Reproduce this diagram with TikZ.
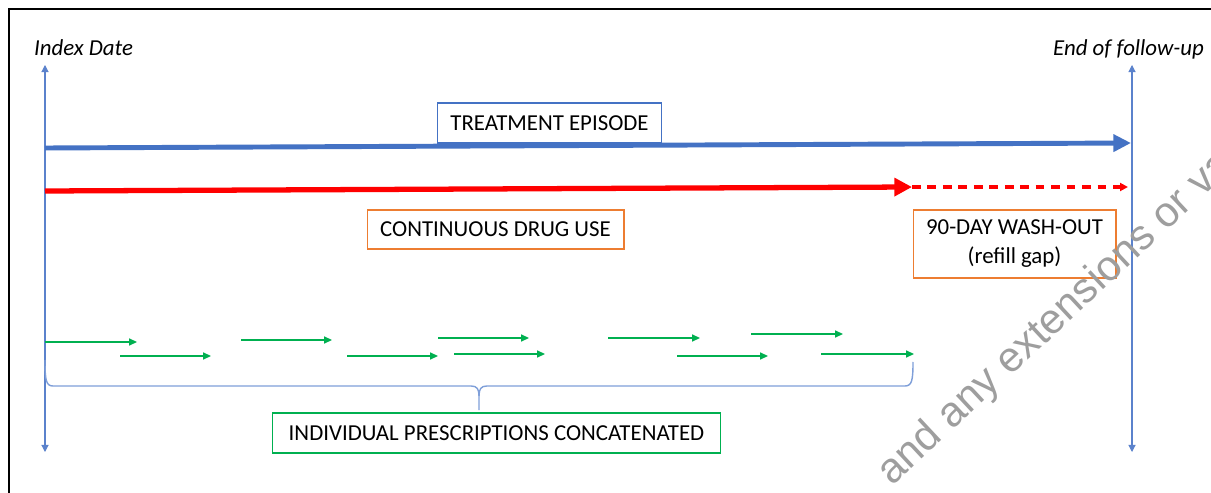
\documentclass[tikz,border=0pt]{standalone}
\usepackage{fontspec}
\setmainfont{Carlito}
\newfontfamily\wmfont{Liberation Sans}
\usetikzlibrary{arrows.meta}
\definecolor{cblue}{HTML}{4472C4}
\definecolor{caxis}{HTML}{5B82CC}
\definecolor{cbrace}{HTML}{7F9FD9}
\definecolor{corange}{HTML}{ED7D31}
\definecolor{cgreen}{HTML}{00B050}
\definecolor{cred}{HTML}{FF0000}
\begin{document}
\begin{tikzpicture}[x=0.02cm,y=-0.02cm,
  lbl/.style={font=\fontsize{13}{16}\selectfont\itshape, anchor=base},
  box/.style={draw, line width=0.6pt, fill=white, inner sep=0pt,
    font=\fontsize{13}{16.5}\selectfont, align=center},
  axisline/.style={draw=caxis, line width=0.6pt,
    {Triangle[length=4pt,width=4pt]}-{Triangle[length=4pt,width=4pt]}},
  rx/.style={draw=cgreen, line width=0.85pt, -{Triangle[length=4.5pt,width=4pt]}},
  bracepath/.style={draw=cbrace, line width=0.8pt},
  wm/.style={font=\wmfont\fontsize{24}{24}\selectfont, text=black!38, inner sep=0pt}
]
\useasboundingbox (0,0) rectangle (1211,493);
\clip (0,0) rectangle (1211,493);
\fill[white] (0,0) rectangle (1211,493);
% frame
\draw[black, line width=1.2pt] (9,520) -- (9,9) -- (1230,9);

% axes
\coordinate (Ltop) at (45,65);
\coordinate (Lbot) at (45,452);
\coordinate (Rtop) at (1132,65);
\coordinate (Rbot) at (1132,452);
\draw[axisline] (Lbot) -- (Ltop);
\draw[axisline] (Rbot) -- (Rtop);

\node[lbl] (idx) at (83.5,56) {Index Date};
\node[lbl] (eof) at (1128.5,56) {End of follow-up};

% treatment episode
\coordinate (bS) at (45,148);
\coordinate (bE) at (1131,143);
\draw[cblue, line width=2.8pt, -{Triangle[length=10pt,width=9.5pt]}] (bS) -- (bE);
\node[box, draw=cblue, minimum width=4.48cm, minimum height=0.8cm] (te) at (549.5,123) {TREATMENT EPISODE};

% continuous drug use
\coordinate (rS) at (45,191);
\coordinate (rM) at (912,187);
\coordinate (rE) at (1128,187);
\draw[cred, line width=1.9pt, dash pattern=on 5pt off 3.8pt, -{Triangle[length=4.5pt,width=4.5pt]}] (rM) -- (rE);
\draw[cred, line width=3pt, -{Triangle[length=10pt,width=10pt]}] (rS) -- (rM);
\node[box, draw=corange, minimum width=5.14cm, minimum height=0.78cm] (cdu) at (495.5,229.5) {CONTINUOUS DRUG USE};
\node[box, draw=corange, minimum width=4.06cm, minimum height=1.36cm] (wo) at (1014.5,244) {90-DAY WASH-OUT\\(refill gap)};

% prescriptions
\coordinate (p1s) at (45,342);  \coordinate (p1e) at (137,342);
\coordinate (p2s) at (120,356); \coordinate (p2e) at (211,356);
\coordinate (p3s) at (241,340); \coordinate (p3e) at (332,340);
\coordinate (p4s) at (347,356); \coordinate (p4e) at (438,356);
\coordinate (p5s) at (438,338); \coordinate (p5e) at (529,338);
\coordinate (p6s) at (454,354); \coordinate (p6e) at (545,354);
\coordinate (p7s) at (608,338); \coordinate (p7e) at (700,338);
\coordinate (p8s) at (751,334); \coordinate (p8e) at (843,334);
\coordinate (p9s) at (677,356); \coordinate (p9e) at (768,356);
\coordinate (p10s) at (821,354); \coordinate (p10e) at (914,354);
\foreach \i in {1,...,10} { \draw[rx] (p\i s) -- (p\i e); }

% brace
\coordinate (bl) at (45,360);
\coordinate (bt) at (479,410);
\coordinate (br) at (913,362);
\draw[bracepath] (bl) .. controls (45,380) and (46,386) .. (53,386) -- (471,386)
   .. controls (477,386) and (479,389) .. (479,396) -- (bt);
\draw[bracepath] (479,396) .. controls (479,389) and (481,386) .. (487,386) -- (905,386)
   .. controls (912,386) and (913,380) .. (br);
\node[box, draw=cgreen, minimum width=8.98cm, minimum height=0.8cm] (ipc) at (496.5,433) {INDIVIDUAL PRESCRIPTIONS CONCATENATED};

% watermark
\node[wm, rotate=43, anchor=base west] (wmk) at (892,487) {and any extensions or vari};
\end{tikzpicture}
\end{document}
